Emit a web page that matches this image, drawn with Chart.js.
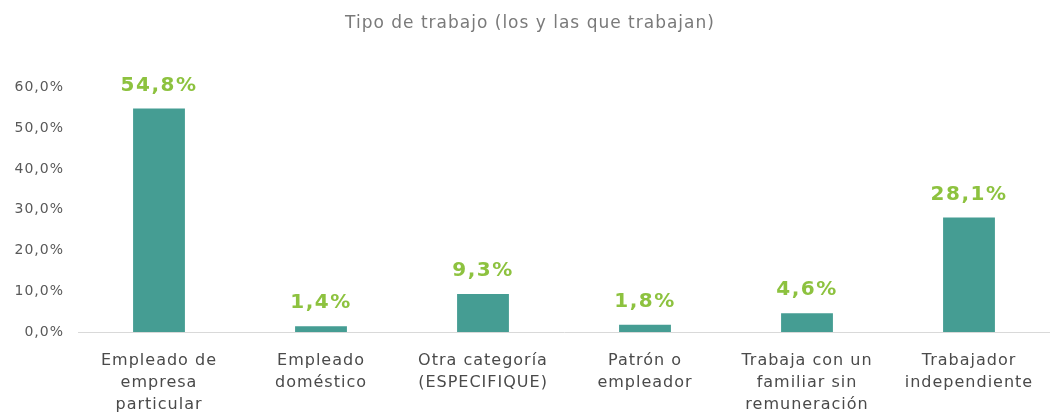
<!DOCTYPE html>
<html>
<head>
<meta charset="utf-8">
<script src="https://cdn.jsdelivr.net/npm/chart.js@4"></script>
<style>
  body { margin: 0; background: #fff; }
  #wrap { width: 1050px; height: 418px; }
</style>
</head>
<body>
<div id="wrap"><canvas id="myChart" width="1050" height="418"></canvas></div>
<script>
var categorias = [
    ["Empleado de", "empresa", "particular"],
    ["Empleado", "doméstico"],
    ["Otra categoría", "(ESPECIFIQUE)"],
    ["Patrón o", "empleador"],
    ["Trabaja con un", "familiar sin", "remuneración"],
    ["Trabajador", "independiente"]
];
var porcentajes = [54.8, 1.4, 9.3, 1.8, 4.6, 28.1];
var yTicks = [0, 10, 20, 30, 40, 50, 60];

function fmt(v) {
    return v.toFixed(1).replace('.', ',') + '%';
}

// letras algo más separadas, como en la imagen original
var espaciado = {
    id: 'espaciado',
    beforeDraw: function (chart) {
        chart.ctx.letterSpacing = '1px';
    }
};

// etiquetas encima de las barras
var etiquetas = {
    id: 'etiquetas',
    afterDatasetsDraw: function (chart) {
        var ctx = chart.ctx;
        var meta = chart.getDatasetMeta(0);
        ctx.save();
        ctx.font = 'bold 20px "DejaVu Sans"';
        ctx.fillStyle = '#8dc23f';
        ctx.textAlign = 'center';
        ctx.textBaseline = 'bottom';
        ctx.letterSpacing = '1.5px';
        meta.data.forEach(function (bar, i) {
            ctx.fillText(fmt(porcentajes[i]), bar.x, bar.y - 13);
        });
        ctx.restore();
    }
};

new Chart("myChart", {
    type: "bar",
    data: {
        labels: categorias,
        datasets: [{
            data: porcentajes,
            backgroundColor: "#459d93",
            barPercentage: 0.32,
            categoryPercentage: 1
        }]
    },
    options: {
        responsive: false,
        animation: false,
        layout: { padding: { left: 10, right: 0, top: 0, bottom: 0 } },
        plugins: {
            legend: { display: false },
            tooltip: { enabled: false },
            title: {
                display: true,
                text: "Tipo de trabajo (los y las que trabajan)",
                color: "#7a7a7a",
                font: { family: "DejaVu Sans", size: 17, weight: "normal" },
                padding: { top: 13, bottom: 54 }
            }
        },
        scales: {
            y: {
                min: 0,
                max: 60,
                afterBuildTicks: function (axis) {
                    axis.ticks = yTicks.map(function (v) { return { value: v }; });
                },
                afterFit: function (axis) { axis.width = 68; },
                grid: { display: false, drawTicks: false },
                border: { display: false },
                ticks: {
                    padding: 14,
                    color: "#595959",
                    font: { family: "DejaVu Sans", size: 14 },
                    callback: function (v) { return fmt(v); }
                }
            },
            x: {
                grid: { display: false, drawTicks: false },
                border: { display: true, color: "#d9d9d9", width: 1 },
                afterFit: function (axis) { axis.height = 86; },
                ticks: {
                    padding: 18,
                    maxRotation: 0,
                    color: "#4a4a4a",
                    font: { family: "DejaVu Sans", size: 16, lineHeight: 1.375 }
                }
            }
        }
    },
    plugins: [espaciado, etiquetas]
});
</script>
</body>
</html>
